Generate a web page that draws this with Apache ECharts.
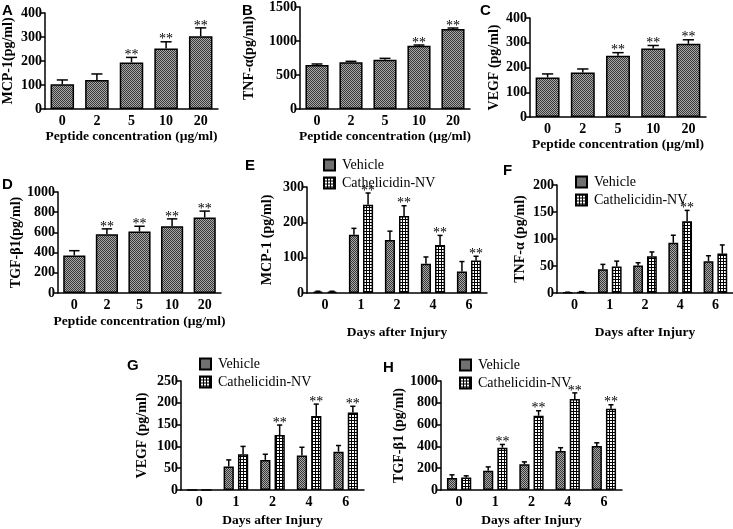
<!DOCTYPE html>
<html>
<head>
<meta charset="utf-8">
<script src="https://cdn.jsdelivr.net/npm/echarts@6/dist/echarts.min.js"></script>
<style>
  html, body { margin: 0; padding: 0; background: #fff; }
  #chart { width: 733px; height: 529px; }
</style>
</head>
<body>
<div id="chart"></div>
<script>
// categories
const doseCats = ['0', '2', '5', '10', '20']
const dayCats = ['0', '1', '2', '4', '6']

// A-D: peptide concentration (single series)
const mcpDose = [103, 121, 194, 252, 303]
const mcpDoseErr = [18, 25, 21, 28, 35]
const mcpDoseSig = [0, 0, 1, 1, 1]
const tnfDose = [647, 686, 725, 931, 1176]
const tnfDoseErr = [15, 15, 20, 10, 15]
const tnfDoseSig = [0, 0, 0, 1, 1]
const vegfDose = [160, 180, 247, 277, 296]
const vegfDoseErr = [14, 14, 13, 12, 16]
const vegfDoseSig = [0, 0, 1, 1, 1]
const tgfDose = [372, 581, 608, 661, 748]
const tgfDoseErr = [47, 54, 53, 73, 63]
const tgfDoseSig = [0, 1, 1, 1, 1]

// E-H: days after injury, Vehicle vs Cathelicidin-NV
const mcpVeh = [4, 165, 150, 83, 61]
const mcpVehErr = [1, 18, 25, 19, 28]
const mcpCath = [4, 250, 218, 136, 92]
const mcpCathErr = [1, 33, 29, 27, 12]
const mcpSig = [0, 1, 1, 1, 1]
const tnfVeh = [1, 44, 51, 93, 59]
const tnfVehErr = [0.5, 9, 5, 14, 10]
const tnfCath = [2, 49, 68, 133, 73]
const tnfCathErr = [0.5, 10, 8, 20, 16]
const tnfSig = [0, 0, 0, 1, 0]
const vegfVeh = [0, 54, 69, 79, 88]
const vegfVehErr = [0, 15, 13, 19, 14]
const vegfCath = [0, 82, 126, 170, 178]
const vegfCathErr = [0, 18, 23, 27, 14]
const vegfSig = [0, 0, 1, 1, 1]
const tgfVeh = [109, 176, 236, 358, 403]
const tgfVehErr = [30, 36, 22, 30, 30]
const tgfCath = [115, 388, 682, 836, 745]
const tgfCathErr = [15, 30, 45, 55, 37]
const tgfSig = [0, 1, 1, 1, 1]

const serif = '"Liberation Serif", "Times New Roman", serif'
const sans = '"Liberation Sans", Arial, sans-serif'

function makePattern (size, draw) {
  const c = document.createElement('canvas')
  c.width = size
  c.height = size
  draw(c.getContext('2d'))
  return { image: c, repeat: 'repeat' }
}
// fine grey dither (vehicle / single series)
const greyFill = makePattern(2, ctx => {
  ctx.fillStyle = '#a8a8a8'
  ctx.fillRect(0, 0, 2, 2)
  ctx.fillStyle = '#383838'
  ctx.fillRect(0, 0, 1, 1)
  ctx.fillRect(1, 1, 1, 1)
})
// coarse black / white checker (Cathelicidin-NV)
const checkFill = makePattern(3, ctx => {
  ctx.fillStyle = '#000'
  ctx.fillRect(0, 0, 3, 3)
  ctx.fillStyle = '#fff'
  ctx.fillRect(1, 1, 2, 2)
})

// error bar + significance marks, shifted by a fraction of the band width
function errorBars (shift, capRatio) {
  return function (params, api) {
    const i = api.value(0)
    const v = api.value(1)
    const e = api.value(2)
    const s = api.value(3)
    const band = api.size([1, 0])[0]
    const p0 = api.coord([i, v])
    const p1 = api.coord([i, v + e])
    const x = p0[0] + shift * band
    const cap = band * capRatio / 2
    const children = []
    if (e > 0) {
      children.push({
        type: 'line',
        shape: { x1: x, y1: p0[1], x2: x, y2: p1[1] },
        style: { stroke: '#000', lineWidth: 1.5 }
      })
      children.push({
        type: 'line',
        shape: { x1: x - cap, y1: p1[1], x2: x + cap, y2: p1[1] },
        style: { stroke: '#000', lineWidth: 1.5 }
      })
    }
    if (s) {
      children.push({
        type: 'text',
        style: {
          text: '**',
          x: x,
          y: p1[1] + 5,
          align: 'center',
          verticalAlign: 'bottom',
          textAlign: 'center',
          textVerticalAlign: 'bottom',
          font: '14px ' + serif,
          fill: '#000'
        }
      })
    }
    return { type: 'group', children: children }
  }
}

function rows (vals, errs, sigs) {
  return vals.map((v, i) => [i, v, errs[i], sigs ? sigs[i] : 0])
}

const panels = [
  { letter: 'A', lx: 2, ly: 3, grid: { left: 45, top: 13, width: 173, height: 96 }, cats: doseCats, max: 400, step: 100, yName: 'MCP-1(pg/ml)', yGap: 30, xName: 'Peptide concentration (µg/ml)', xGap: 21, single: [mcpDose, mcpDoseErr, mcpDoseSig] },
  { letter: 'B', lx: 242, ly: 3, grid: { left: 300, top: 7, width: 170, height: 102 }, cats: doseCats, max: 1500, step: 500, yName: 'TNF-α(pg/ml)', yGap: 44, xName: 'Peptide concentration (µg/ml)', xGap: 21, single: [tnfDose, tnfDoseErr, tnfDoseSig] },
  { letter: 'C', lx: 480, ly: 3, grid: { left: 530, top: 18, width: 176, height: 99 }, cats: doseCats, max: 400, step: 100, yName: 'VEGF (pg/ml)', yGap: 29, xName: 'Peptide concentration (µg/ml)', xGap: 21, single: [vegfDose, vegfDoseErr, vegfDoseSig] },
  { letter: 'D', lx: 2, ly: 177, grid: { left: 58, top: 192, width: 163, height: 101 }, cats: doseCats, max: 1000, step: 200, yName: 'TGF-β1(pg/ml)', yGap: 35, xName: 'Peptide concentration (µg/ml)', xGap: 22, single: [tgfDose, tgfDoseErr, tgfDoseSig] },
  { letter: 'E', lx: 245, ly: 158, grid: { left: 307, top: 187, width: 180, height: 106 }, cats: dayCats, max: 300, step: 100, yName: 'MCP-1 (pg/ml)', yGap: 33, xName: 'Days after Injury', xGap: 33, legend: { left: 323, top: 158 }, veh: [mcpVeh, mcpVehErr], cath: [mcpCath, mcpCathErr, mcpSig] },
  { letter: 'F', lx: 503, ly: 163, grid: { left: 557, top: 185, width: 176, height: 108 }, cats: dayCats, max: 200, step: 50, yName: 'TNF-α (pg/ml)', yGap: 30, xName: 'Days after Injury', xGap: 33, legend: { left: 575, top: 175 }, veh: [tnfVeh, tnfVehErr], cath: [tnfCath, tnfCathErr, tnfSig] },
  { letter: 'G', lx: 127, ly: 358, grid: { left: 181, top: 381, width: 183, height: 109 }, cats: dayCats, max: 250, step: 50, yName: 'VEGF (pg/ml)', yGap: 32, xName: 'Days after Injury', xGap: 24, legend: { left: 199, top: 357 }, veh: [vegfVeh, vegfVehErr], cath: [vegfCath, vegfCathErr, vegfSig] },
  { letter: 'H', lx: 383, ly: 360, grid: { left: 441, top: 381, width: 181, height: 110 }, cats: dayCats, max: 1000, step: 200, yName: 'TGF-β1 (pg/ml)', yGap: 33, xName: 'Days after Injury', xGap: 24, legend: { left: 459, top: 358 }, veh: [tgfVeh, tgfVehErr], cath: [tgfCath, tgfCathErr, tgfSig] }
]

const option = {
  backgroundColor: '#fff',
  animation: false,
  title: [],
  legend: [],
  grid: [],
  xAxis: [],
  yAxis: [],
  series: []
}

const barStyle = fill => ({ color: fill, borderColor: '#000', borderWidth: 1.5 })

panels.forEach((p, k) => {
  option.title.push({
    text: p.letter,
    left: p.lx,
    top: p.ly,
    padding: 0,
    textStyle: { fontFamily: sans, fontWeight: 'bold', fontSize: 15, color: '#000' }
  })
  option.grid.push(Object.assign({ containLabel: false }, p.grid))
  option.xAxis.push({
    type: 'category',
    gridIndex: k,
    data: p.cats,
    name: p.xName,
    nameLocation: 'middle',
    nameGap: p.xGap,
    nameTextStyle: { fontFamily: serif, fontWeight: 'bold', fontSize: 13.5, color: '#000' },
    axisLine: { lineStyle: { color: '#000', width: 1.5 } },
    axisTick: { show: false },
    axisLabel: { fontFamily: serif, fontWeight: 'bold', fontSize: 14, color: '#000', margin: 5 }
  })
  option.yAxis.push({
    type: 'value',
    gridIndex: k,
    min: 0,
    max: p.max,
    interval: p.step,
    name: p.yName,
    nameLocation: 'middle',
    nameGap: p.yGap,
    nameTextStyle: { fontFamily: serif, fontWeight: 'bold', fontSize: 14, color: '#000' },
    splitLine: { show: false },
    axisLine: { show: true, lineStyle: { color: '#000', width: 1.5 } },
    axisTick: { show: true, length: 4, lineStyle: { color: '#000', width: 1.5 } },
    axisLabel: { fontFamily: serif, fontWeight: 'bold', fontSize: 14, color: '#000', margin: 3, formatter: v => String(v) }
  })
  if (p.single) {
    option.series.push({
      type: 'bar',
      xAxisIndex: k,
      yAxisIndex: k,
      barWidth: '68%',
      itemStyle: barStyle(greyFill),
      data: p.single[0]
    })
    option.series.push({
      type: 'custom',
      xAxisIndex: k,
      yAxisIndex: k,
      z: 5,
      renderItem: errorBars(0, 0.32),
      encode: { x: 0, y: 1 },
      data: rows(p.single[0], p.single[1], p.single[2])
    })
  } else {
    option.legend.push({
      left: p.legend.left,
      top: p.legend.top,
      orient: 'vertical',
      padding: 0,
      itemGap: 4,
      itemWidth: 11,
      itemHeight: 11,
      icon: 'rect',
      textStyle: { fontFamily: serif, fontSize: 14, color: '#000', padding: [0, 0, 0, 2] },
      data: ['Vehicle', 'Cathelicidin-NV']
    })
    option.series.push({
      type: 'bar',
      name: 'Vehicle',
      xAxisIndex: k,
      yAxisIndex: k,
      barWidth: '28%',
      barGap: '40%',
      itemStyle: barStyle(greyFill),
      data: p.veh[0]
    })
    option.series.push({
      type: 'bar',
      name: 'Cathelicidin-NV',
      xAxisIndex: k,
      yAxisIndex: k,
      barWidth: '28%',
      barGap: '40%',
      itemStyle: barStyle(checkFill),
      data: p.cath[0]
    })
    option.series.push({
      type: 'custom',
      xAxisIndex: k,
      yAxisIndex: k,
      z: 5,
      renderItem: errorBars(-0.196, 0.14),
      encode: { x: 0, y: 1 },
      data: rows(p.veh[0], p.veh[1])
    })
    option.series.push({
      type: 'custom',
      xAxisIndex: k,
      yAxisIndex: k,
      z: 5,
      renderItem: errorBars(0.196, 0.14),
      encode: { x: 0, y: 1 },
      data: rows(p.cath[0], p.cath[1], p.cath[2])
    })
  }
})

const myChart = echarts.init(document.getElementById('chart'))
myChart.setOption(option)
</script>
</body>
</html>
